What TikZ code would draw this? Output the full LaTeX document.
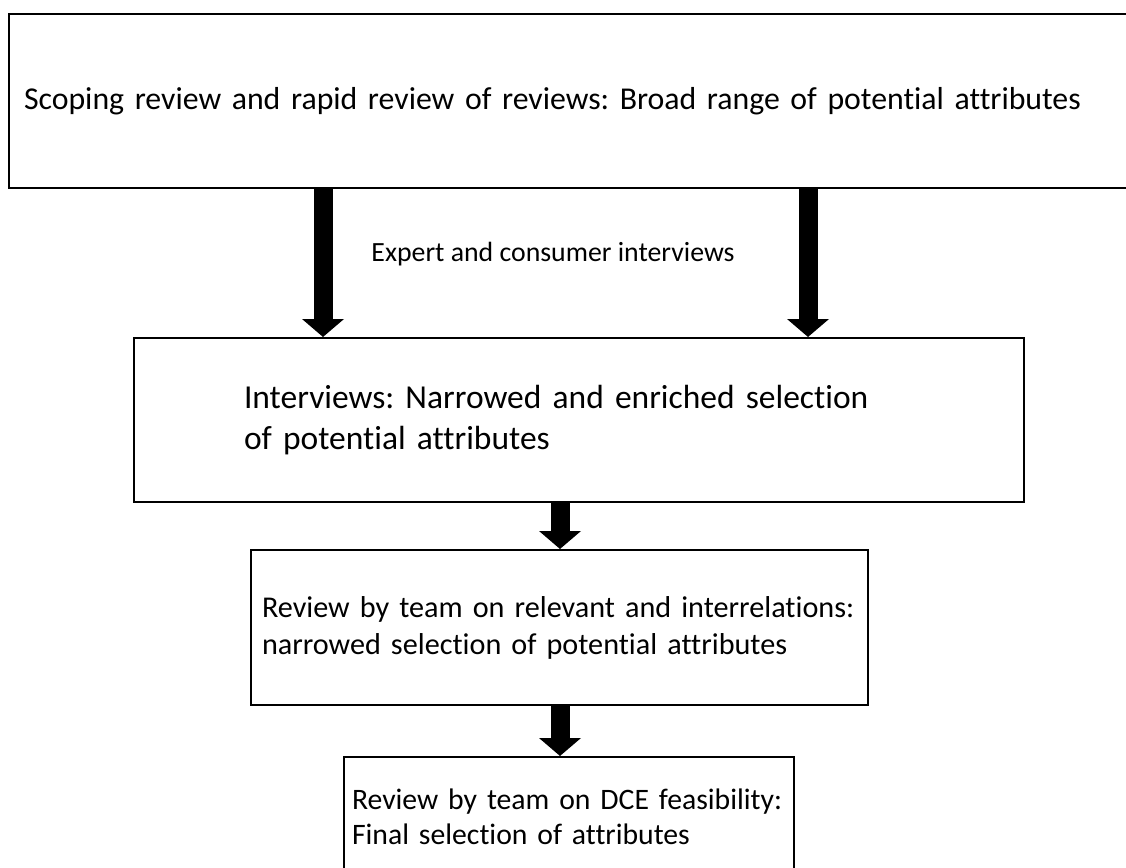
\documentclass[tikz,border=0pt]{standalone}
\usepackage{fontspec}
\setmainfont{Carlito}[Ligatures=NoCommon]
\usetikzlibrary{arrows.meta}
\frenchspacing

\begin{document}
\begin{tikzpicture}[x=1pt, y=-1pt,
    stage/.style={draw, line width=2pt, anchor=north west, align=left, inner ysep=0pt},
    bigarrow/.style={line width=19pt, -{Triangle[width=41pt, length=18pt]}}]
  \useasboundingbox (0,0) rectangle (1126,867);

  \node[stage, minimum width=1140pt, minimum height=174pt, inner xsep=12pt, text width=1110pt,
        font=\fontsize{31.8}{38}\selectfont] (scoping) at (8,13)
        {Scoping review and rapid review of reviews: Broad range of potential attributes};
  \node[stage, minimum width=890pt, minimum height=164pt, inner xsep=110pt, text width=670pt,
        font=\fontsize{33.5}{41}\selectfont] (interv) at (133,337)
        {Interviews: Narrowed and enriched selection\\of potential attributes};
  \node[stage, minimum width=617pt, minimum height=155pt, inner xsep=11pt, text width=595pt,
        font=\fontsize{30.2}{37}\selectfont] (team) at (250,549)
        {Review by team on relevant and interrelations:\\narrowed selection of potential attributes};
  \node[stage, minimum width=450pt, minimum height=119pt, inner xsep=8pt, text width=434pt,
        font=\fontsize{29.7}{35}\selectfont] (final) at (343,756)
        {Review by team on DCE feasibility:\\Final selection of attributes};

  \node[font=\fontsize{27.8}{31}\selectfont] (expert) at (553,254) {Expert and consumer interviews};

  \draw[bigarrow] (scoping.south -| 323,0) -- (interv.north -| 323,0);
  \draw[bigarrow] (scoping.south -| 808,0) -- (interv.north -| 808,0);
  \draw[bigarrow] (interv.south -| 560,0) -- (team.north -| 560,0);
  \draw[bigarrow] (team.south -| 560,0) -- (final.north -| 560,0);
\end{tikzpicture}
\end{document}
